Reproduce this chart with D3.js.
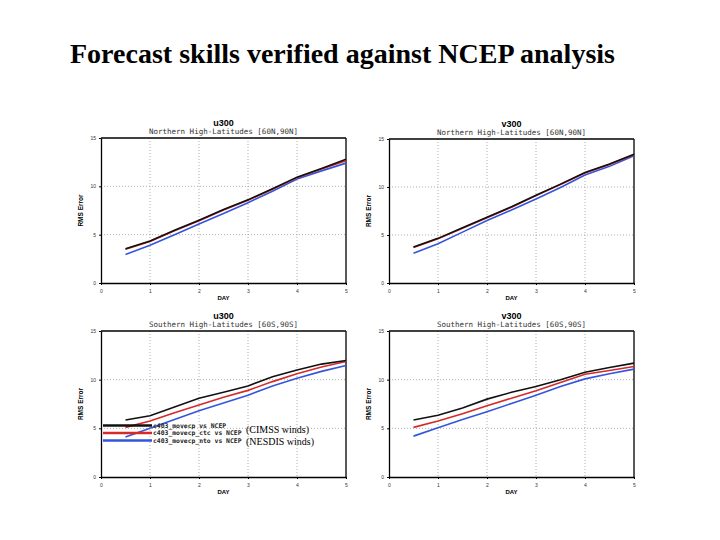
<!DOCTYPE html>
<html><head><meta charset="utf-8">
<script src="https://cdn.jsdelivr.net/npm/d3@7"></script>
<style>body{margin:0;background:#fff}</style>
</head><body>
<script>
// ---- data ----
const days = [0.5, 1, 1.5, 2, 2.5, 3, 3.5, 4, 4.5, 5];
const seriesNames = ["c403_movecp vs NCEP", "c403_movecp_ctc vs NCEP", "c403_movecp_nto vs NCEP"];
const seriesNotes = ["", "(CIMSS winds)", "(NESDIS winds)"];
const panelVars = ["u300", "v300", "u300", "v300"];
const panelRegions = ["Northern High-Latitudes [60N,90N]", "Northern High-Latitudes [60N,90N]",
                      "Southern High-Latitudes [60S,90S]", "Southern High-Latitudes [60S,90S]"];
const u300N_black = [3.55, 4.35, 5.45, 6.5, 7.6, 8.6, 9.75, 10.95, 11.85, 12.8];
const u300N_red   = [3.5, 4.3, 5.4, 6.45, 7.55, 8.55, 9.7, 10.9, 11.8, 12.65];
const u300N_blue  = [2.95, 3.9, 5.0, 6.1, 7.2, 8.3, 9.5, 10.75, 11.6, 12.4];
const v300N_black = [3.75, 4.65, 5.75, 6.85, 7.95, 9.15, 10.3, 11.5, 12.4, 13.4];
const v300N_red   = [3.7, 4.6, 5.7, 6.8, 7.9, 9.1, 10.25, 11.45, 12.35, 13.35];
const v300N_blue  = [3.1, 4.1, 5.3, 6.5, 7.6, 8.75, 9.95, 11.25, 12.15, 13.25];
const u300S_black = [5.85, 6.3, 7.2, 8.1, 8.7, 9.35, 10.3, 11.0, 11.6, 11.97];
const u300S_red   = [5.1, 5.75, 6.6, 7.4, 8.2, 8.9, 9.8, 10.6, 11.3, 11.87];
const u300S_blue  = [4.1, 5.0, 5.9, 6.8, 7.6, 8.4, 9.35, 10.15, 10.85, 11.45];
const v300S_black = [5.85, 6.35, 7.1, 8.0, 8.7, 9.3, 10.0, 10.77, 11.25, 11.7];
const v300S_red   = [5.1, 5.75, 6.5, 7.33, 8.1, 8.85, 9.7, 10.56, 10.95, 11.35];
const v300S_blue  = [4.2, 5.05, 5.9, 6.7, 7.55, 8.4, 9.3, 10.08, 10.6, 11.08];
const xTicks = [0, 1, 2, 3, 4, 5];
const yTicks = [0, 5, 10, 15];
const mainTitle = "Forecast skills verified against NCEP analysis";

const panelData = [
  [u300N_black, u300N_red, u300N_blue],
  [v300N_black, v300N_red, v300N_blue],
  [u300S_black, u300S_red, u300S_blue],
  [v300S_black, v300S_red, v300S_blue]
];
const colors = ["#111111", "#d42a2a", "#3355dd"];

const W = 720, H = 540;
const svg = d3.select("body").append("svg").attr("width", W).attr("height", H)
  .style("font-family", "'Liberation Sans', Arial, sans-serif");

svg.append("text").attr("x", 70).attr("y", 63)
  .style("font-family", "'Liberation Serif', 'Times New Roman', serif")
  .style("font-weight", "bold").style("font-size", "27px")
  .attr("textLength", 545).attr("lengthAdjust", "spacingAndGlyphs").text(mainTitle);

const boxes = [
  {x0: 101, x1: 346, y0: 138, y1: 283},
  {x0: 389, x1: 634, y0: 139, y1: 283},
  {x0: 101, x1: 346, y0: 331, y1: 477},
  {x0: 389, x1: 634, y0: 331, y1: 477}
];

boxes.forEach((b, i) => {
  const g = svg.append("g");
  const x = d3.scaleLinear().domain([0, 5]).range([b.x0, b.x1]);
  const y = d3.scaleLinear().domain([0, 15]).range([b.y1, b.y0]);
  // grid
  g.selectAll(".gx").data(xTicks.slice(1, -1)).join("line")
    .attr("x1", d => x(d)).attr("x2", d => x(d)).attr("y1", b.y0).attr("y2", b.y1)
    .attr("stroke", "#999").attr("stroke-width", 0.8).attr("stroke-dasharray", "1,2");
  g.selectAll(".gy").data(yTicks.slice(1, -1)).join("line")
    .attr("y1", d => y(d)).attr("y2", d => y(d)).attr("x1", b.x0).attr("x2", b.x1)
    .attr("stroke", "#999").attr("stroke-width", 0.8).attr("stroke-dasharray", "1,2");
  // axes
  const ax = g.append("g").attr("transform", `translate(0,${b.y1})`)
    .call(d3.axisBottom(x).tickValues(xTicks).tickFormat(d3.format("d")).tickSize(2).tickSizeOuter(0));
  const ay = g.append("g").attr("transform", `translate(${b.x0},0)`)
    .call(d3.axisLeft(y).tickValues(yTicks).tickFormat(d3.format("d")).tickSize(2).tickSizeOuter(0));
  [ax, ay].forEach(a => {
    a.select(".domain").attr("stroke", "#000").attr("stroke-width", 1.3);
    a.selectAll("text").style("font-size", "5px").attr("fill", "#333");
  });
  ax.selectAll("text").attr("dy", "0.9em");
  // top/right frame
  g.append("line").attr("x1", b.x0).attr("x2", b.x1).attr("y1", b.y0).attr("y2", b.y0)
    .attr("stroke", "#000").attr("stroke-width", 1.3);
  g.append("line").attr("x1", b.x1).attr("x2", b.x1).attr("y1", b.y0).attr("y2", b.y1)
    .attr("stroke", "#000").attr("stroke-width", 1.3);
  // lines
  const line = d3.line().x((d, j) => x(days[j])).y(d => y(d));
  [2, 1, 0].forEach(k => {
    g.append("path").datum(panelData[i][k]).attr("d", line)
      .attr("fill", "none").attr("stroke", colors[k]).attr("stroke-width", 1.6);
  });
  // titles
  const cx = (b.x0 + b.x1) / 2;
  g.append("text").attr("x", cx).attr("y", b.y0 - 12).attr("text-anchor", "middle")
    .style("font-weight", "bold").style("font-size", "9px").text(panelVars[i]);
  g.append("text").attr("x", cx).attr("y", b.y0 - 4).attr("text-anchor", "middle")
    .style("font-family", "'DejaVu Sans Mono', 'Liberation Mono', monospace")
    .style("font-size", "7.5px").attr("fill", "#333").text(panelRegions[i]);
  g.append("text").attr("transform", `translate(${b.x0 - 18},${(b.y0 + b.y1) / 2}) rotate(-90)`)
    .attr("text-anchor", "middle").style("font-weight", "bold").style("font-size", "6.5px").text("RMS Error");
  g.append("text").attr("x", cx).attr("y", b.y1 + 17).attr("text-anchor", "middle")
    .style("font-weight", "bold").style("font-size", "6px").text("DAY");
});

// legend in panel 3
const lg = svg.append("g");
const legY = [425.5, 433, 440.5];
const noteY = [0, 432.5, 444.5];
seriesNames.forEach((n, k) => {
  lg.append("line").attr("x1", 103).attr("x2", 152).attr("y1", legY[k]).attr("y2", legY[k])
    .attr("stroke", colors[k]).attr("stroke-width", 2.5);
  lg.append("text").attr("x", 153).attr("y", legY[k] + 2.2)
    .style("font-family", "'DejaVu Sans Mono', 'Liberation Mono', monospace")
    .style("font-weight", "bold").style("font-size", "6.4px").attr("fill", "#222").text(n);
  if (seriesNotes[k]) {
    lg.append("text").attr("x", 246).attr("y", noteY[k])
      .style("font-family", "'Liberation Serif', 'Times New Roman', serif")
      .style("font-size", "10px").text(seriesNotes[k]);
  }
});
</script>
</body></html>
